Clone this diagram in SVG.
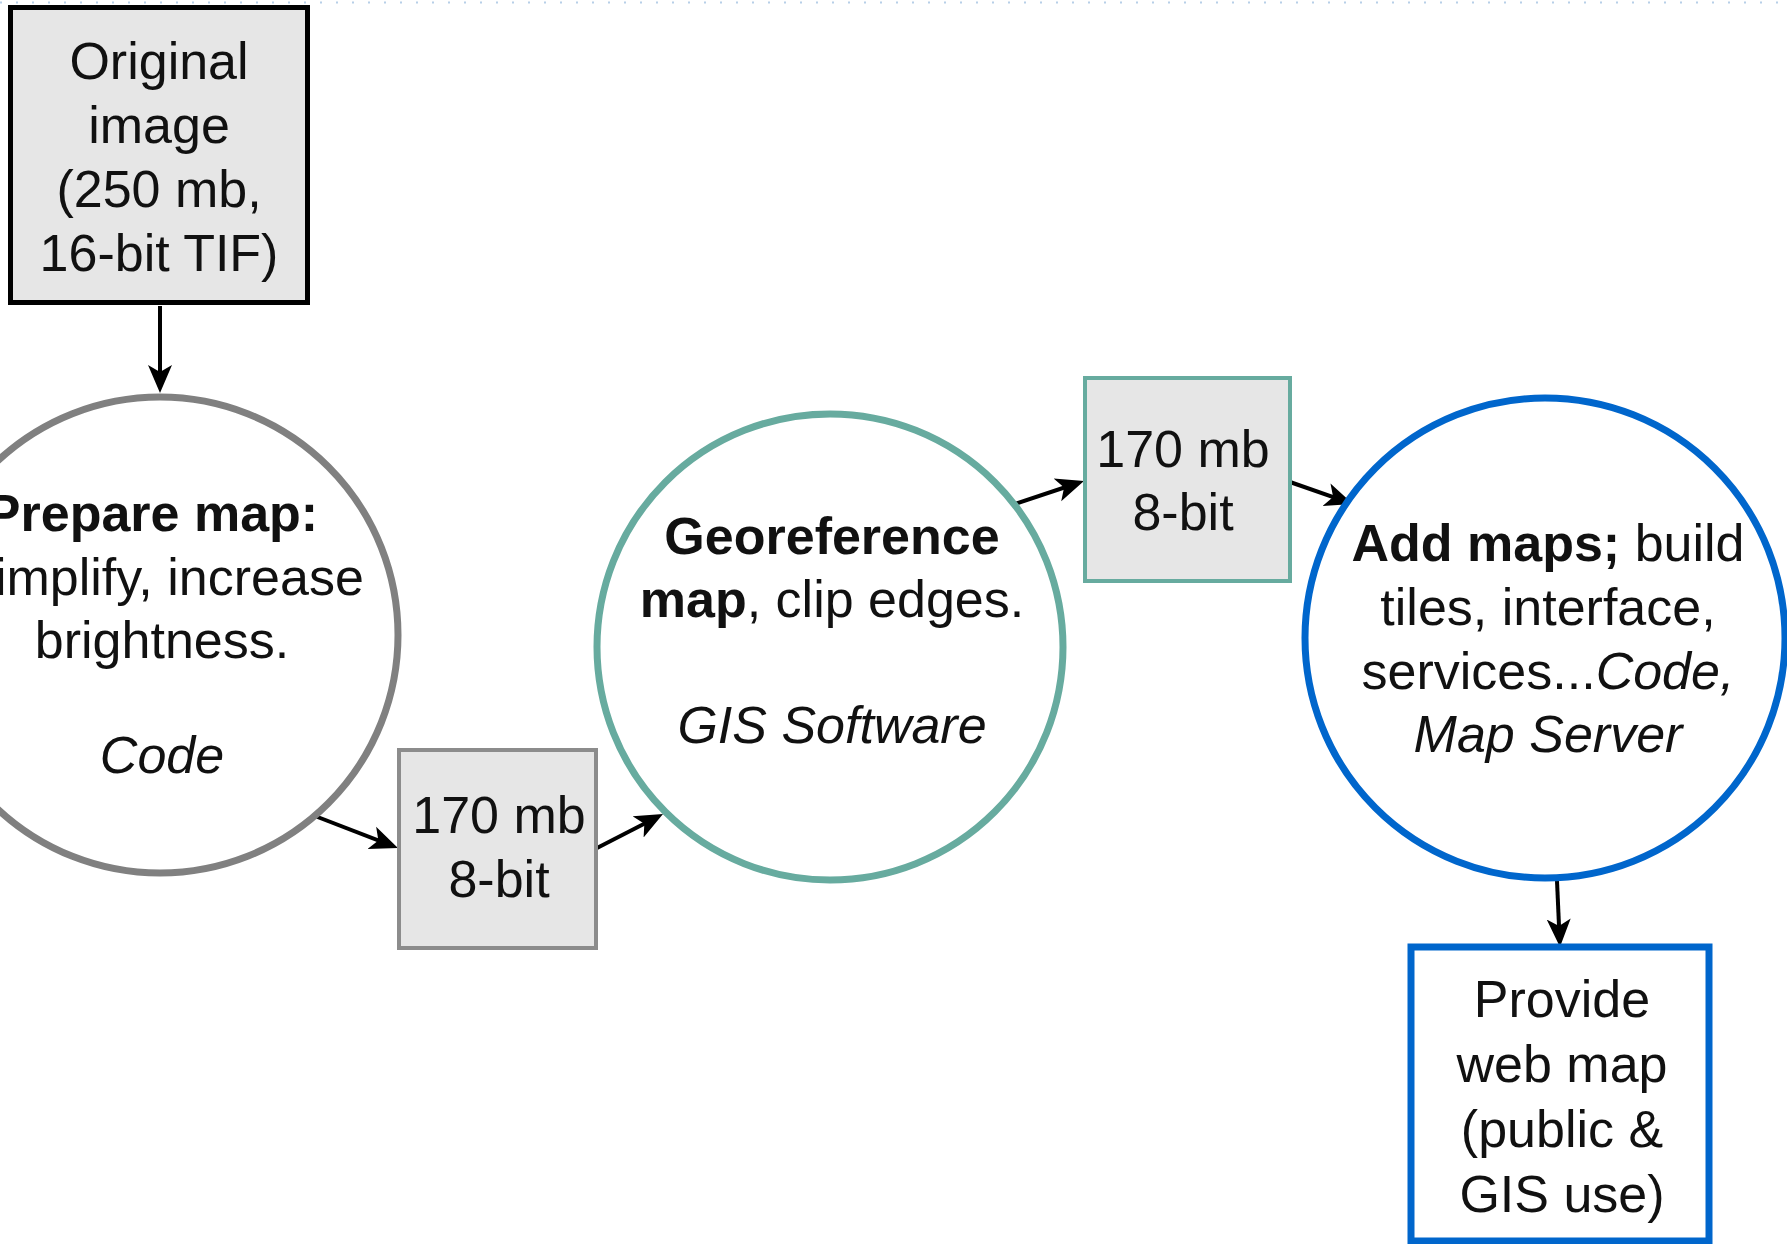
<svg xmlns="http://www.w3.org/2000/svg" width="1787" height="1244" viewBox="0 0 1787 1244">
  <style>
    text { font-family: "Liberation Sans", Arial, sans-serif; font-size: 52px; fill: #111; text-anchor: middle; }
    .b { font-weight: bold; }
    .i { font-style: italic; }
    .conn { stroke: #000; stroke-width: 4; fill: none; }
    .gbox { fill: #e6e6e6; }
    .circ { fill: #fff; stroke-width: 7; }
  </style>
  <defs>
    <marker id="arr" markerUnits="userSpaceOnUse" markerWidth="30" markerHeight="26" viewBox="0 0 30 26" refX="20" refY="13" orient="auto">
      <path d="M0,1 L28,13 L0,25 L7,13 Z" fill="#000"/>
    </marker>
  </defs>
  <rect width="1787" height="1244" fill="#fff"/>
  <line x1="0" y1="2.5" x2="1787" y2="2.5" stroke="#b7cfe8" stroke-width="2" stroke-dasharray="2 14"/>

  <g id="connectors">
    <path class="conn" d="M160,306 L160,385" marker-end="url(#arr)"/>
    <path class="conn" d="M315,816 L390.5,845.1" marker-end="url(#arr)"/>
    <path class="conn" d="M597,848 L655.9,817.7" marker-end="url(#arr)"/>
    <path class="conn" d="M1015,504 L1076.4,483.5" marker-end="url(#arr)"/>
    <path class="conn" d="M1290,482 L1345.4,501.4" marker-end="url(#arr)"/>
    <path class="conn" d="M1557,881 L1559.6,939" marker-end="url(#arr)"/>
  </g>

  <g id="original-image">
    <rect class="gbox" x="10.5" y="7.5" width="297" height="295" stroke="#000" stroke-width="5"/>
    <text x="159" y="79">Original</text>
    <text x="159" y="143">image</text>
    <text x="159" y="207">(250 mb,</text>
    <text x="159" y="271">16-bit TIF)</text>
  </g>

  <g id="prepare-map">
    <circle class="circ" cx="160" cy="635" r="238" stroke="#808080"/>
    <text x="152" y="531" class="b">Prepare map:</text>
    <text x="162" y="595">Simplify, increase</text>
    <text x="162" y="658">brightness.</text>
    <text x="162" y="773" class="i">Code</text>
  </g>

  <g id="data-1">
    <rect class="gbox" x="399" y="750" width="197" height="198" stroke="#8c8c8c" stroke-width="4"/>
    <text x="499" y="833">170 mb</text>
    <text x="499" y="897">8-bit</text>
  </g>

  <g id="georeference">
    <circle class="circ" cx="830" cy="647" r="233" stroke="#67AB9F"/>
    <text x="832" y="554" class="b">Georeference</text>
    <text x="832" y="617"><tspan class="b">map</tspan>, clip edges.</text>
    <text x="832" y="743" class="i">GIS Software</text>
  </g>

  <g id="data-2">
    <rect class="gbox" x="1085" y="378" width="205" height="203" stroke="#67AB9F" stroke-width="4"/>
    <text x="1183" y="467">170 mb</text>
    <text x="1183" y="530">8-bit</text>
  </g>

  <g id="add-maps">
    <circle class="circ" cx="1545" cy="638" r="240" stroke="#0066CC"/>
    <text x="1548" y="561"><tspan class="b">Add maps;</tspan> build</text>
    <text x="1548" y="625">tiles, interface,</text>
    <text x="1548" y="689">services...<tspan class="i">Code,</tspan></text>
    <text x="1548" y="752" class="i">Map Server</text>
  </g>

  <g id="provide-web-map">
    <rect x="1411" y="947" width="298" height="294" fill="#fff" stroke="#0066CC" stroke-width="7"/>
    <text x="1562" y="1017">Provide</text>
    <text x="1562" y="1082">web map</text>
    <text x="1562" y="1147">(public &amp;</text>
    <text x="1562" y="1212">GIS use)</text>
  </g>
</svg>
